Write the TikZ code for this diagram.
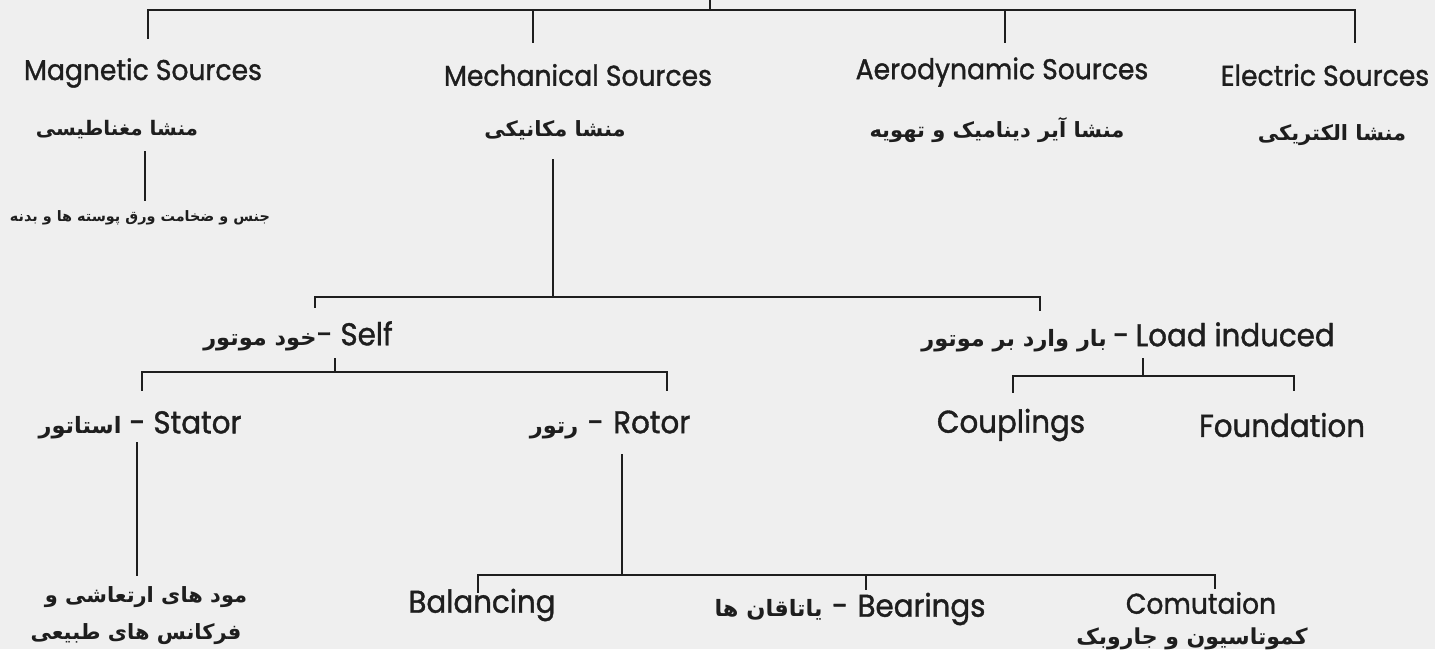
\documentclass[tikz,border=0pt]{standalone}
\usepackage{fontspec}
\setmainfont{Poppins}[FakeBold=1.2, FakeStretch=0.93]
\newfontfamily\fafont[Script=Arabic]{DejaVu Sans Bold}
\TeXXeTstate=1
\newcommand{\pf}[1]{{\fafont\beginR #1\endR}}
\newcommand{\pfs}[1]{{\fafont\fontsize{22.5}{26}\selectfont\beginR #1\endR}}
\definecolor{bg}{HTML}{EFEFEF}
\definecolor{ink}{HTML}{1E1E1E}
\tikzset{
  en/.style={inner sep=0pt, text=ink, font=\fontsize{28.6}{32}\selectfont},
  enl/.style={inner sep=0pt, text=ink, font=\fontsize{31.5}{35}\selectfont},
  fa/.style={inner sep=0pt, text=ink, font=\fontsize{21}{25}\selectfont},
  fasmall/.style={inner sep=0pt, text=ink, font=\fontsize{14.4}{17}\selectfont},
  conn/.style={draw=ink, line width=1.8pt, line cap=rect}
}
\begin{document}
\begin{tikzpicture}[x=1pt, y=-1pt]
\useasboundingbox (0,0) rectangle (1435,649);
\fill[bg] (0,0) rectangle (1435,649);

% level 1
\node[en] (mag)  at (143,73)  {Magnetic Sources};
\node[en] (mech) at (578,75)  {Mechanical Sources};
\node[en] (aero) at (1002,72) {Aerodynamic Sources};
\node[en] (elec) at (1325,75) {Electric Sources};

\node[fa, font=\fontsize{20}{24}\selectfont] (magfa)  at (117,130)  {\pf{منشا مغناطیسی}};
\node[fa] (mechfa) at (555,130)  {\pf{منشا مکانیکی}};
\node[fa] (aerofa) at (997,130)  {\pf{منشا آیر دینامیک و تهویه}};
\node[fa] (elecfa) at (1332,135) {\pf{منشا الکتریکی}};

\node[fasmall] (magsub) at (140,218) {\pf{جنس و ضخامت ورق پوسته ها و بدنه}};

% level 2
\node[enl] (self) at (298,336) {\pfs{خود موتور}-\hspace{0.25em}Self};
\node[enl] (load) at (1128,337) {\pfs{بار وارد بر موتور}\hspace{0.2em}-\hspace{0.2em}Load induced};

% level 3
\node[enl] (stator) at (140,425) {\pfs{استاتور}\hspace{0.25em}-\hspace{0.25em}Stator};
\node[enl] (rotor)  at (610,425) {\pfs{رتور}\hspace{0.3em}-\hspace{0.3em}Rotor};
\node[enl] (coup)   at (1011,425) {Couplings};
\node[enl] (found)  at (1282,425) {Foundation};

% level 4
\node[fa] (modes1) at (146,597) {\pf{مود های ارتعاشی و}};
\node[fa] (modes2) at (136,634) {\pf{فرکانس های طبیعی}};
\node[enl] (bal)    at (482,605) {Balancing};
\node[enl] (bear)   at (850,609) {\pfs{یاتاقان ها}\hspace{0.3em}-\hspace{0.3em}Bearings};
\node[en] (comu)   at (1201,603) {Comutaion};
\node[fa, font=\fontsize{22}{26}\selectfont] (comufa) at (1192,639) {\pf{کموتاسیون و جاروبک}};

% connector end points
\coordinate (root) at (710,0);
\coordinate (b1) at (710,10);
\coordinate (magT) at (148,38);
\coordinate (mechT) at (533,42);
\coordinate (aeroT) at (1005,42);
\coordinate (elecT) at (1355,42);

\draw[conn] (root) -- (b1);
\draw[conn] (magT) |- (b1) -| (elecT);
\draw[conn] (mechT) -- (533,10);
\draw[conn] (aeroT) -- (1005,10);

\coordinate (magL1) at (145,152);
\coordinate (magL2) at (145,200);
\draw[conn] (magL1) -- (magL2);

\coordinate (mechL) at (553,160);
\coordinate (b2) at (553,297);
\coordinate (selfT) at (315,307);
\coordinate (loadT) at (1040,310);
\draw[conn] (mechL) -- (b2);
\draw[conn] (selfT) |- (b2) -| (loadT);

\coordinate (selfB) at (335,359);
\coordinate (b3) at (335,372);
\coordinate (statorT) at (142,390);
\coordinate (rotorT) at (667,390);
\draw[conn] (selfB) -- (b3);
\draw[conn] (statorT) |- (b3) -| (rotorT);

\coordinate (loadB) at (1143,359);
\coordinate (b4) at (1143,376);
\coordinate (coupT) at (1013,392);
\coordinate (foundT) at (1294,390);
\draw[conn] (loadB) -- (b4);
\draw[conn] (coupT) |- (b4) -| (foundT);

\coordinate (statorB) at (137,443);
\coordinate (modesT) at (137,575);
\draw[conn] (statorB) -- (modesT);

\coordinate (rotorB) at (622,455);
\coordinate (b5) at (622,575);
\coordinate (balT) at (478,592);
\coordinate (bearT) at (866,589);
\coordinate (comuT) at (1215,588);
\draw[conn] (rotorB) -- (b5);
\draw[conn] (balT) |- (b5) -| (comuT);
\draw[conn] (bearT) -- (866,575);
\end{tikzpicture}
\end{document}
